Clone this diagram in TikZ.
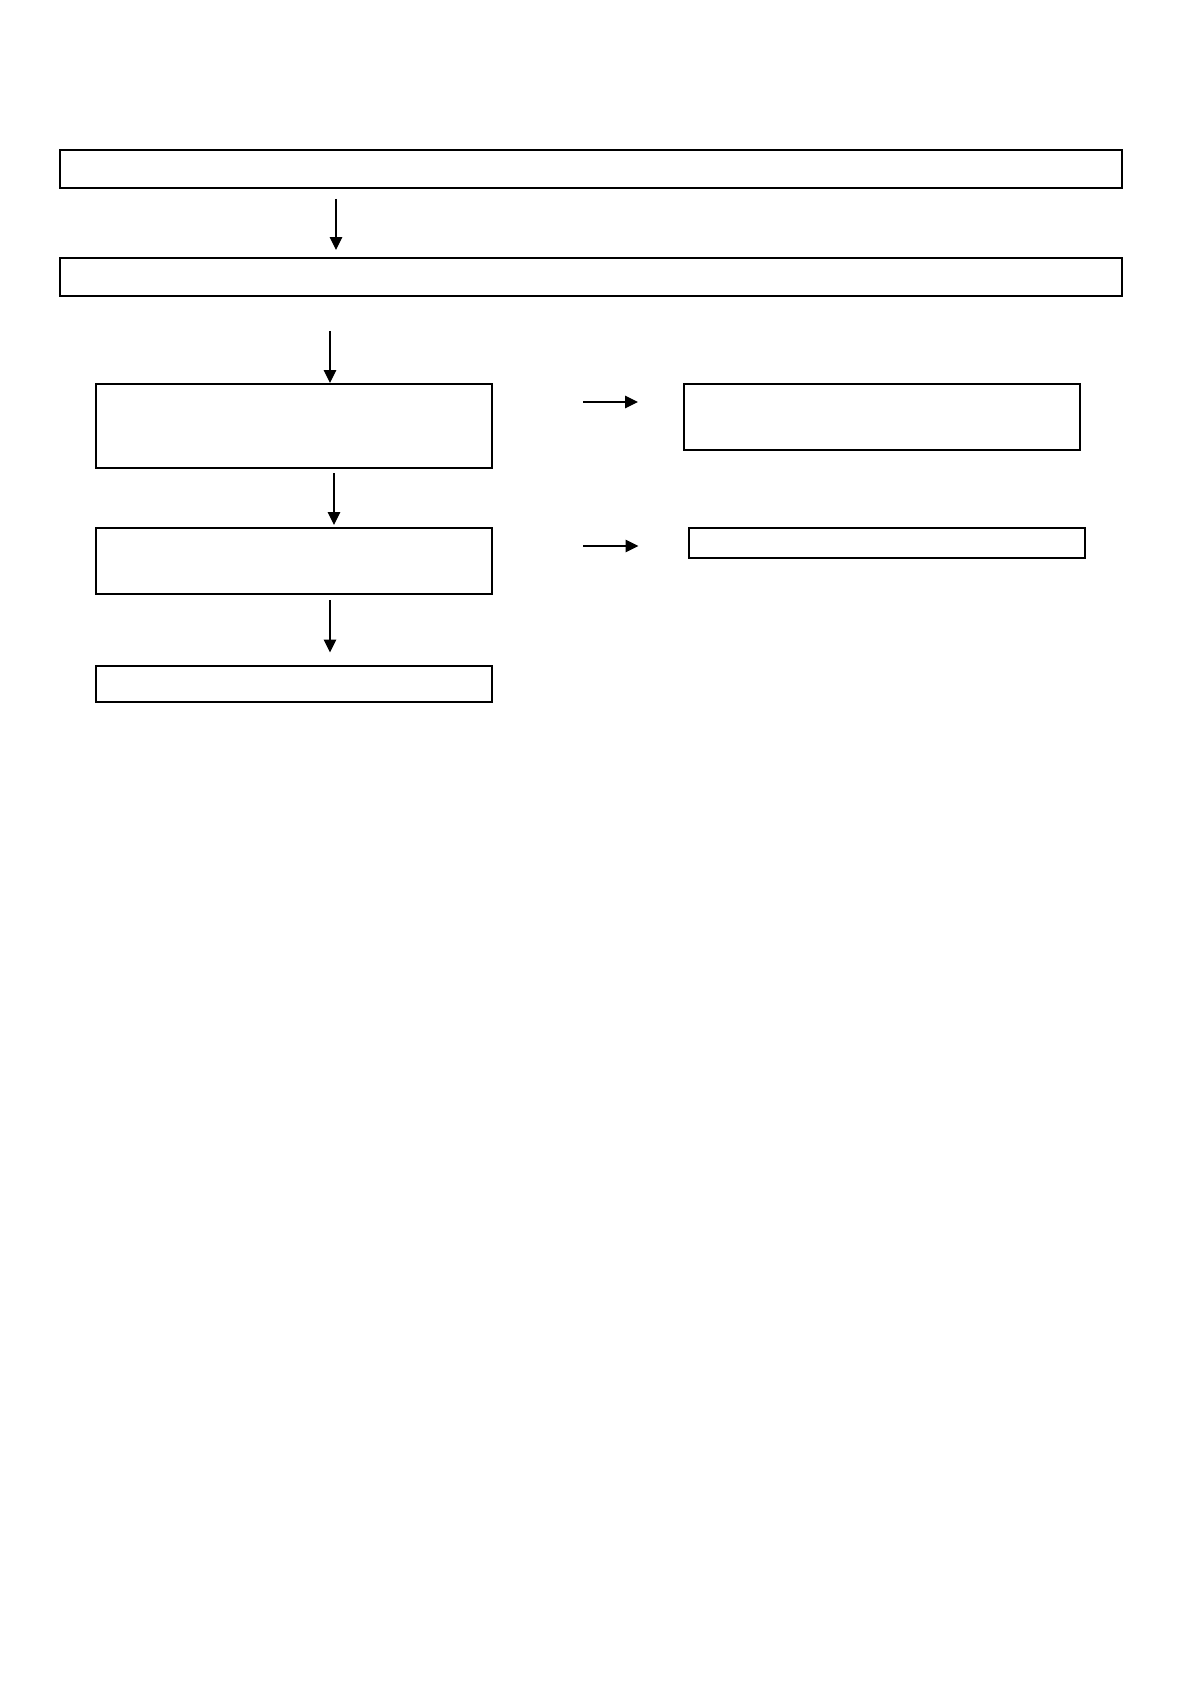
\documentclass[tikz,border=0pt]{standalone}
\usepackage{tikz}
\usetikzlibrary{arrows.meta}

\begin{document}
\begin{tikzpicture}[x=1pt,y=1pt,
    box/.style={draw, line width=1pt, inner sep=0pt, minimum width=198pt},
    flow/.style={line width=0.6pt, -{Triangle[width=6.2pt,length=6.4pt]}}]
  \useasboundingbox (0,0) rectangle (595,-842);
  % boxes
  \node[box, minimum width=531pt, minimum height=19pt] (top) at (295.5,-84.5) {};
  \node[box, minimum width=531pt, minimum height=19pt] (mid) at (295.5,-138.5) {};
  \node[box, minimum height=42pt] (left1) at (147,-213) {};
  \node[box, minimum height=33pt] (left2) at (147,-280.5) {};
  \node[box, minimum height=18pt] (left3) at (147,-342) {};
  \node[box, minimum height=33pt] (right1) at (441,-208.3) {};
  \node[box, minimum height=15pt] (right2) at (443.7,-271.5) {};
  % arrow columns and rows
  \coordinate (c1) at (168,0);
  \coordinate (c2) at (165,0);
  \coordinate (c3) at (167,0);
  \coordinate (r1) at (0,-201);
  \coordinate (r2) at (0,-273);
  \draw[flow, shorten <=5pt, shorten >=3.5pt] (top.south -| c1) -- (mid.north -| c1);
  \draw[flow, shorten <=17pt] (mid.south -| c2) -- (left1.north -| c2);
  \draw[flow, shorten <=2pt, shorten >=1pt] (left1.south -| c3) -- (left2.north -| c3);
  \draw[flow, shorten <=2.5pt, shorten >=6.3pt] (left2.south -| c2) -- (left3.north -| c2);
  \draw[flow, shorten <=45pt, shorten >=22.5pt] (left1.east |- r1) -- (right1.west |- r1);
  \draw[flow, shorten <=45pt, shorten >=25pt] (left2.east |- r2) -- (right2.west |- r2);
\end{tikzpicture}
\end{document}
